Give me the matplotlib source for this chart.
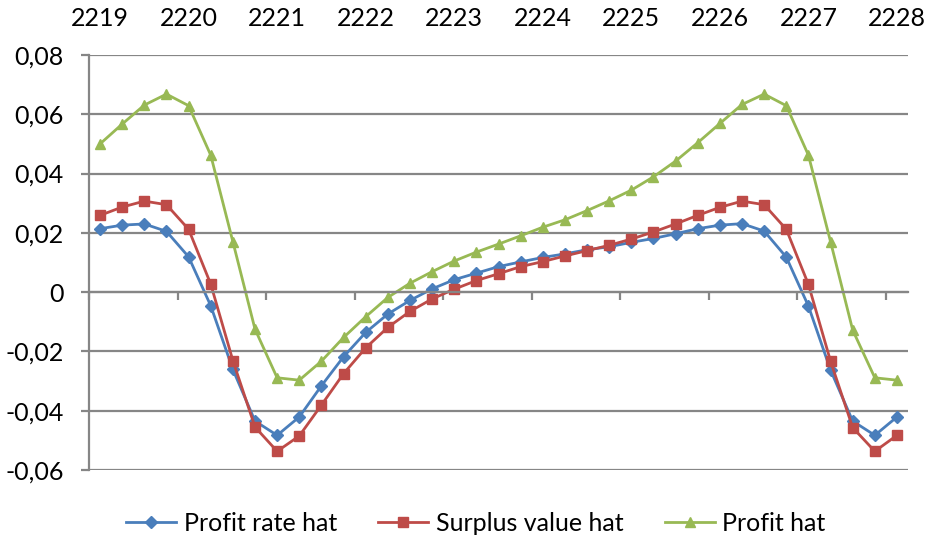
import matplotlib
matplotlib.use("Agg")
from matplotlib import pyplot as plt
from matplotlib.ticker import FuncFormatter
import numpy as np

years = ["2219", "2220", "2221", "2222", "2223", "2224", "2225", "2226", "2227", "2228"]

# quarterly values, 37 points
profit_rate_hat = [0.0214, 0.0226, 0.0230, 0.0205, 0.0119, -0.0046, -0.0261, -0.0435, -0.0483, -0.0421,
                   -0.0316, -0.0218, -0.0136, -0.0074, -0.0028, 0.0011, 0.0042, 0.0064, 0.0086, 0.0102,
                   0.0117, 0.0129, 0.0143, 0.0153, 0.0168, 0.0181, 0.0197, 0.0214, 0.0226, 0.0231,
                   0.0206, 0.0118, -0.0047, -0.0263, -0.0435, -0.0483, -0.0421]
surplus_value_hat = [0.0259, 0.0287, 0.0307, 0.0295, 0.0212, 0.0027, -0.0231, -0.0455, -0.0537, -0.0485,
                     -0.0381, -0.0275, -0.0188, -0.0119, -0.0065, -0.0023, 0.0010, 0.0039, 0.0062, 0.0086,
                     0.0103, 0.0122, 0.0140, 0.0158, 0.0179, 0.0203, 0.0230, 0.0259, 0.0286, 0.0307,
                     0.0295, 0.0212, 0.0026, -0.0233, -0.0457, -0.0537, -0.0483]
profit_hat = [0.0500, 0.0567, 0.0631, 0.0668, 0.0629, 0.0462, 0.0170, -0.0125, -0.0289, -0.0297,
              -0.0233, -0.0153, -0.0083, -0.0018, 0.0030, 0.0069, 0.0105, 0.0135, 0.0162, 0.0190,
              0.0219, 0.0244, 0.0275, 0.0308, 0.0344, 0.0389, 0.0442, 0.0504, 0.0569, 0.0633,
              0.0668, 0.0629, 0.0462, 0.0170, -0.0128, -0.0289, -0.0297]

plt.rcParams['font.family'] = ['Lato', 'DejaVu Sans']
plt.rcParams['font.size'] = 18

grey = '#868686'
fig = plt.figure(figsize=(9.26, 5.37), dpi=100)
ax = fig.add_axes([0.0961, 0.1248, 0.8845, 0.7728])

x = np.arange(len(profit_hat))
ax.plot(x, profit_rate_hat, color='#4A7EBB', lw=2, marker='D', ms=6, label='Profit rate hat')
ax.plot(x, surplus_value_hat, color='#BE4B48', lw=2, marker='s', ms=7, label='Surplus value hat')
ax.plot(x, profit_hat, color='#98B954', lw=2, marker='^', ms=7.5, label='Profit hat')

ax.set_xlim(-0.5, len(x) - 0.5)
ax.set_ylim(-0.06, 0.08)
ax.set_yticks(np.arange(-0.06, 0.081, 0.02))
ax.yaxis.set_major_formatter(FuncFormatter(lambda v, p: "0" if abs(v) < 1e-9 else f"{v:.2f}".replace('.', ',')))
ax.yaxis.grid(True, color=grey, lw=1.6)
ax.set_axisbelow(True)

for s in ['top', 'right']:
    ax.spines[s].set_visible(False)
ax.spines['bottom'].set_position(('data', 0))
ax.spines['bottom'].set_color(grey)
ax.spines['left'].set_color(grey)
ax.spines['bottom'].set_linewidth(1.6)
ax.spines['left'].set_linewidth(1.6)

ax.set_xticks(np.arange(-0.5, len(x) - 1, 4))
ax.tick_params(axis='x', which='major', direction='out', length=6, width=1.6, color=grey,
               labelbottom=False)
ax.set_xticks(np.arange(0, len(x), 4), minor=True)
ax.set_xticklabels(years, minor=True)
ax.tick_params(axis='x', which='minor', length=0, bottom=False, top=False,
               labelbottom=False, labeltop=True, pad=18)
ax.tick_params(axis='y', direction='out', length=6, width=1.6, color=grey, pad=12)

fig.legend(loc='center', bbox_to_anchor=(0.514, 0.026), ncol=3, frameon=False,
           handlelength=2.0, handletextpad=0.3, columnspacing=1.65)

plt.savefig('out.png', dpi=100)
